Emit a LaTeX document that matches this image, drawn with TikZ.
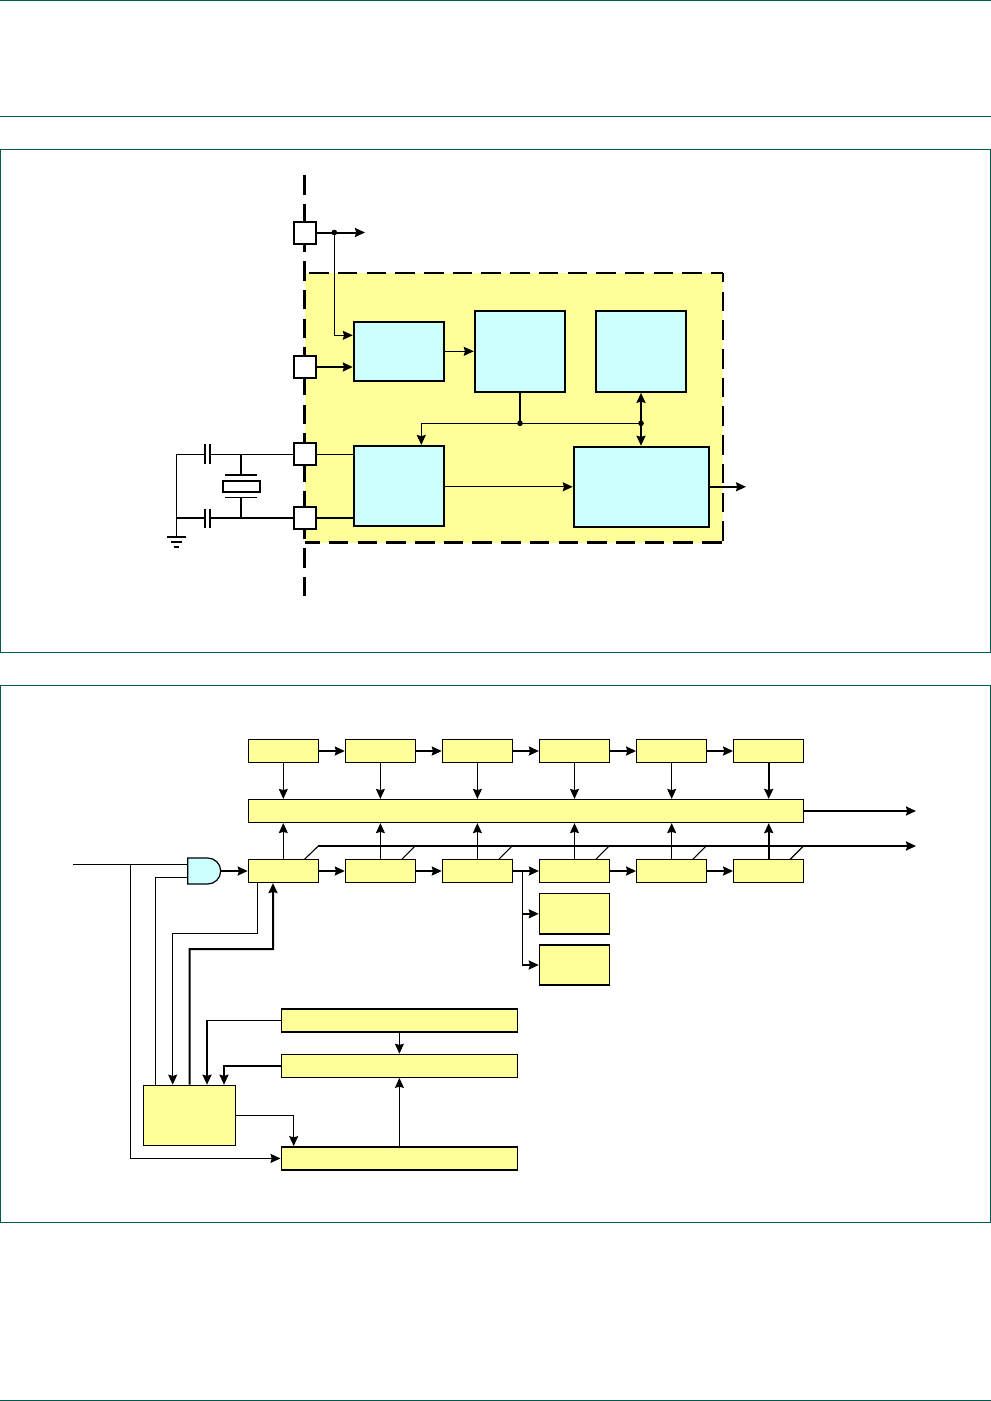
\documentclass[tikz,border=0pt]{standalone}
\usetikzlibrary{arrows.meta}

\definecolor{ruleGreen}{HTML}{00584E}
\definecolor{boxYellow}{HTML}{FFFF99}
\definecolor{boxCyan}{HTML}{CCFFFF}

\begin{document}
\begin{tikzpicture}[
    x=1pt, y=-1pt,
    pad/.style={draw, fill=white, line width=2pt, minimum size=22pt, inner sep=0pt},
    cyanbox/.style={draw, fill=boxCyan, line width=1.8pt, inner sep=0pt},
    stage/.style={draw, fill=boxYellow, line width=1.2pt, minimum width=70pt, minimum height=23pt, inner sep=0pt},
    yellowbox/.style={draw, fill=boxYellow, line width=1.2pt, inner sep=0pt},
    panel/.style={draw=ruleGreen, line width=1.2pt},
    bordr/.style={line width=2.6pt, dash pattern=on 19.5pt off 9.2pt},
    thin1/.style={line width=1.1pt},
    thick1/.style={line width=2pt},
    dot/.style={circle, fill=black, inner sep=2pt},
    >={Stealth[length=10pt, width=9pt, inset=1.2pt]}
]
    \useasboundingbox (0,0) rectangle (991,1401);

    % 页面框线
    \draw[panel] (0,0.5) -- (991,0.5);
    \draw[panel] (0,116.5) -- (991,116.5);
    \draw[panel] (0.5,149.5) rectangle (990.5,652.5);
    \draw[panel] (0.5,685.5) rectangle (990.5,1222.5);
    \draw[panel] (0,1400.5) -- (991,1400.5);

    % 1. 上图: 黄色区域和虚线
    \fill[boxYellow] (304.5,273) rectangle (723,542.5);
    \draw[bordr, dash phase=24pt] (304.5,273) -- (723,273);
    \draw[bordr, dash phase=4.3pt] (304.5,542.5) -- (723,542.5);
    \draw[bordr, dash phase=10.1pt] (723,273) -- (723,542.5);
    \draw[bordr] (304.5,175) -- (304.5,596.5);

    % 节点定义 (引脚)
    \node[pad] (padA) at (304.5,232.5) {};
    \node[pad] (padB) at (304.5,367) {};
    \node[pad] (padC) at (304.5,454.3) {};
    \node[pad] (padD) at (304.5,518) {};

    % 节点定义 (内部方框)
    \node[cyanbox, minimum width=90.6pt, minimum height=59.3pt] (mux) at (399,351.3) {};
    \node[cyanbox, minimum width=90.3pt, minimum height=81.3pt] (pll) at (519.8,351.3) {};
    \node[cyanbox, minimum width=90.3pt, minimum height=81.3pt] (reg) at (640.8,351.3) {};
    \node[cyanbox, minimum width=90.6pt, minimum height=80.3pt] (osc) at (399,486) {};
    \node[cyanbox, minimum width=135.3pt, minimum height=80.3pt] (out) at (641.3,486.8) {};

    \coordinate (clkOut) at (365,232.5);
    \coordinate (clkDot) at (334.3,232.5);
    \coordinate (busDot) at (520,423.3);
    \coordinate (regDot) at (641,423.3);
    \coordinate (outEnd) at (746,486.8);

    % 连线
    \draw[->, thick1] (padA) -- (clkOut);
    \node[dot] (clkDotA) at (clkDot) {};
    \draw[->, thin1] (clkDotA.center) |- (mux.west |- 0,335.3);
    \draw[->, thick1] (padB) -- (mux.west |- padB);
    \draw[->, thin1] (mux) -- (pll);
    \draw[thick1] (pll.south -| busDot) -- (busDot);
    \node[dot] (busDotA) at (busDot) {};
    \node[dot] (regDotA) at (regDot) {};
    \draw[->, thin1] (regDotA.center) -- (421.3,423.3) -- (osc.north -| 421.3,0);
    \draw[<->, thick1] (reg.south -| regDot) -- (out.north -| regDot);
    \draw[->, thin1] (osc.east |- 0,486.8) -- (out.west);
    \draw[->, thick1] (out) -- (outEnd);
    \draw[thin1] (padC) -- (osc.west |- padC);
    \draw[thick1] (padD) -- (osc.west |- padD);

    % 晶振和电容
    \coordinate (xtalTop) at (241,454.3);
    \coordinate (xtalBot) at (241,518);
    \coordinate (gndTop) at (176.3,537);
    \draw[thin1] (padC) -- (176.3,454.3) -- (gndTop);
    \draw[thick1] (padD) -- (176.3,518);
    \fill[white] (206.2,440) rectangle (209.4,467);
    \fill[white] (206.2,505) rectangle (209.4,531);
    \draw[thick1] (205.4,444.3) -- (205.4,463.7);
    \draw[thick1] (210.2,444.3) -- (210.2,463.7);
    \draw[thick1] (205.4,508.5) -- (205.4,527.5);
    \draw[thick1] (210.2,508.5) -- (210.2,527.5);
    \draw[thick1] (xtalTop) -- (241,474.7);
    \draw[thick1] (225.3,474.7) -- (257,474.7);
    \node[draw, line width=1.6pt, fill=white, minimum width=37pt, minimum height=11pt, inner sep=0pt] (xtal) at (241.3,486.3) {};
    \draw[thin1] (225.3,497.3) -- (257,497.3);
    \draw[thick1] (241,497.3) -- (xtalBot);
    \draw[thick1] (167,537) -- (186,537);
    \draw[thin1] (171,542) -- (182,542);
    \draw[thick1] (173.5,547) -- (179,547);

    % 2. 下图: 上排方框
    \node[stage] (topA) at (283.3,751) {};
    \node[stage] (topB) at (380.4,751) {};
    \node[stage] (topC) at (477.4,751) {};
    \node[stage] (topD) at (574.5,751) {};
    \node[stage] (topE) at (671.7,751) {};
    \node[stage] (topF) at (768.7,751) {};

    % 中间长框
    \node[yellowbox, minimum width=555.4pt, minimum height=23pt] (wide) at (526,811) {};

    % 下排方框
    \node[stage] (botA) at (283.3,871) {};
    \node[stage] (botB) at (380.4,871) {};
    \node[stage] (botC) at (477.4,871) {};
    \node[stage] (botD) at (574.5,871) {};
    \node[stage] (botE) at (671.7,871) {};
    \node[stage] (botF) at (768.7,871) {};

    \node[stage, minimum height=40.3pt, line width=1.5pt] (memA) at (574.5,913.8) {};
    \node[stage, minimum height=40pt, line width=1.5pt] (memB) at (574.5,965) {};

    \node[yellowbox, minimum width=236.2pt, minimum height=23pt, line width=1.6pt] (cfgA) at (399.4,1020.4) {};
    \node[yellowbox, minimum width=236.2pt, minimum height=23pt] (cfgB) at (399.4,1065.8) {};
    \node[yellowbox, minimum width=236.2pt, minimum height=23pt, line width=1.6pt] (cfgC) at (399.4,1158.4) {};
    \node[yellowbox, minimum width=91.6pt, minimum height=60pt] (ctrl) at (189.5,1115.3) {};

    % 上排水平箭头
    \draw[->, thick1] (topA) -- (topB);
    \draw[->, thick1] (topB) -- (topC);
    \draw[->, thick1] (topC) -- (topD);
    \draw[->, thick1] (topD) -- (topE);
    \draw[->, thick1] (topE) -- (topF);

    % 下排水平箭头
    \draw[->, thick1] (botA) -- (botB);
    \draw[->, thick1] (botB) -- (botC);
    \draw[->, thick1] (botC) -- (botD);
    \draw[->, thick1] (botD) -- (botE);
    \draw[->, thick1] (botE) -- (botF);

    % 上排到长框
    \draw[->, thin1] (topA) -- (topA |- wide.north);
    \draw[->, thin1] (topB) -- (topB |- wide.north);
    \draw[->, thin1] (topC) -- (topC |- wide.north);
    \draw[->, thin1] (topD) -- (topD |- wide.north);
    \draw[->, thin1] (topE) -- (topE |- wide.north);
    \draw[->, thick1] (topF) -- (topF |- wide.north);

    % 下排到长框
    \draw[->, thin1] (botA) -- (botA |- wide.south);
    \draw[->, thin1] (botB) -- (botB |- wide.south);
    \draw[->, thin1] (botC) -- (botC |- wide.south);
    \draw[->, thin1] (botD) -- (botD |- wide.south);
    \draw[->, thin1] (botE) -- (botE |- wide.south);
    \draw[->, thick1] (botF) -- (botF |- wide.south);

    % 输出和总线
    \coordinate (wideEnd) at (916,811);
    \coordinate (busEnd) at (916,846);
    \coordinate (busStart) at (318.3,846);
    \draw[->, thick1] (wide.east |- wideEnd) -- (wideEnd);
    \draw[->, thick1] (busStart) -- (busEnd);
    \draw[thin1] (304.3,859.5) -- (busStart);
    \draw[thin1] (401.7,859.5) -- (415,846);
    \draw[thin1] (498.7,859.5) -- (512,846);
    \draw[thin1] (595.7,859.5) -- (609,846);
    \draw[thin1] (692.7,859.5) -- (706,846);
    \draw[thin1] (790,859.5) -- (803.5,846);

    % 存储器分支
    \coordinate (memFork) at (522.3,871);
    \draw[thin1] (memFork) -- (522.3,965);
    \draw[->, thick1] (522.3,913.8) -- (memA.west);
    \draw[->, thick1] (522.3,965) -- (memB.west);

    % 与门
    \coordinate (gateA) at (187.7,864.3);
    \coordinate (gateB) at (187.7,877.3);
    \coordinate (gateOut) at (220.7,871);
    \draw[fill=boxCyan, line width=1.2pt] (187.7,858) -- (207.7,858) arc[start angle=90, end angle=-90, radius=13pt] -- (187.7,884) -- cycle;
    \draw[->, thick1] (gateOut) -- (botA);

    % 输入和控制线
    \coordinate (inStart) at (73.3,864.3);
    \coordinate (inFork) at (130.7,864.3);
    \draw[thin1] (inStart) -- (gateA);
    \draw[->, thin1] (inFork) |- (cfgC.west);
    \draw[thin1] (gateB) -| (ctrl.north -| 155.7,0);
    \draw[->, thin1] (botA.south -| 257.7,0) -- (257.7,933.3) -- (172.7,933.3) -- (ctrl.north -| 172.7,0);
    \draw[->, thick1] (ctrl.north) -- (189.7,949) -- (273,949) -- (botA.south -| 273,0);
    \draw[thin1] (cfgA.west) -- (207,1020.4);
    \draw[->, thick1] (207,1020.4) -- (ctrl.north -| 207,0);
    \draw[->, thick1] (cfgB.west) -| (ctrl.north -| 224,0);
    \draw[->, thin1] (cfgA) -- (cfgB);
    \draw[->, thin1] (cfgC) -- (cfgB);
    \draw[->, thin1] (ctrl.east) -| (cfgC.north -| 293.7,0);

\end{tikzpicture}
\end{document}
